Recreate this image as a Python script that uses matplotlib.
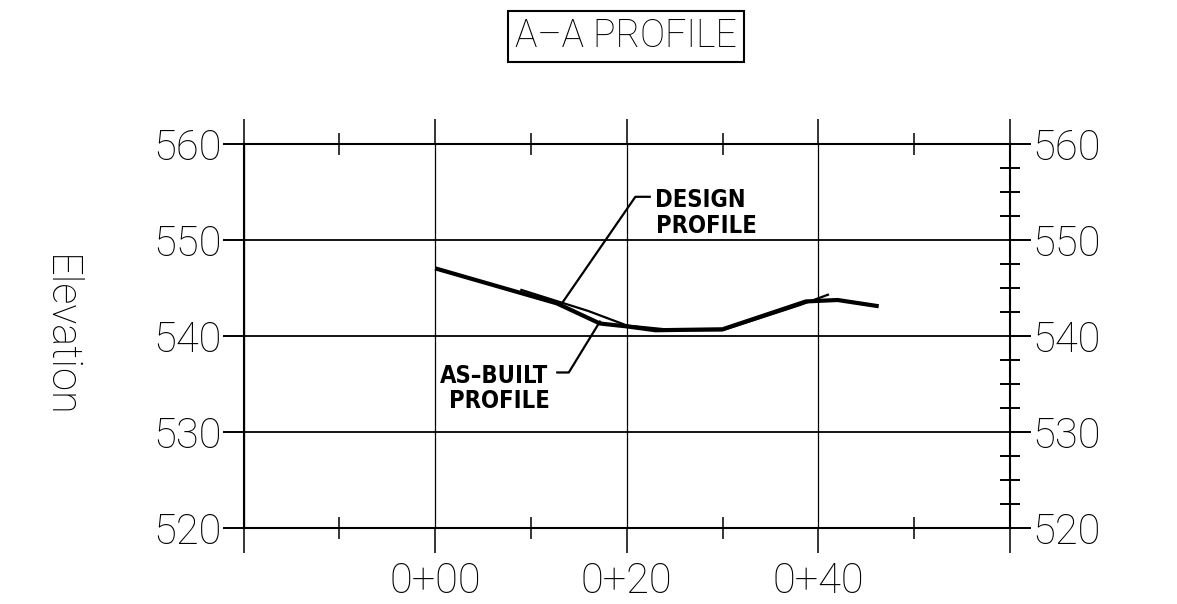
import matplotlib
matplotlib.use("Agg")
import matplotlib.pyplot as plt
from matplotlib.ticker import FixedLocator, FixedFormatter, MultipleLocator

# stations (ft) and elevations
asbuilt_sta = [0, 12.7, 17.2, 20, 23, 30, 38.7, 42, 46.3]
asbuilt_elev = [547.05, 543.4, 541.3, 541.0, 540.6, 540.7, 543.6, 543.75, 543.1]
design_sta = [9, 16, 20, 25, 30, 38, 41]
design_elev = [544.8, 542.6, 541.1, 540.6, 540.6, 543.2, 544.3]

station_ticks = [-20, 0, 20, 40, 60]
station_labels = ['', '0+00', '0+20', '0+40', '']
elev_ticks = [520, 530, 540, 550, 560]

# leader lines for the callouts
design_leader_x = [13.3, 20.9, 22.4]
design_leader_y = [543.5, 554.5, 554.5]
built_leader_x = [17.2, 13.95, 12.75]
built_leader_y = [541.5, 536.2, 536.2]

W, H = 1177, 604
fig = plt.figure(figsize=(W / 100, H / 100), dpi=100)
ax = fig.add_axes([243.5 / W, (H - 528) / H, (1010 - 243.5) / W, (528 - 144) / H])
ax.set_xlim(-20, 60)
ax.set_ylim(520, 560)

num_font = dict(family=['Roboto', 'DejaVu Sans'], weight='light', size=30)
cad_font = dict(family=['DejaVu Sans'], weight='bold', stretch='condensed', size=17)

for s in ax.spines.values():
    s.set_linewidth(1.5)

ax.xaxis.set_major_locator(FixedLocator(station_ticks))
ax.xaxis.set_major_formatter(FixedFormatter(station_labels))
ax.xaxis.set_minor_locator(FixedLocator([-10, 10, 30, 50]))
ax.yaxis.set_major_locator(FixedLocator(elev_ticks))
ax.yaxis.set_minor_locator(MultipleLocator(2.5))

ax.tick_params(axis='x', which='major', direction='out', length=18, width=1.1,
               top=True, bottom=True, labeltop=False, pad=6)
ax.tick_params(axis='x', which='minor', direction='inout', length=16, width=1.1,
               top=True, bottom=True)
ax.tick_params(axis='y', which='major', direction='out', length=15, width=1.4,
               left=True, right=True, labelleft=True, labelright=True, pad=1)
ax.tick_params(axis='y', which='minor', direction='inout', length=14, width=1.4,
               left=False, right=True)
for lab in ax.get_xticklabels() + ax.get_yticklabels():
    lab.set(**num_font)

ax.grid(True, axis='x', which='major', color='black', linewidth=0.9)
ax.grid(True, axis='y', which='major', color='black', linewidth=1.3)

ax.plot(asbuilt_sta, asbuilt_elev, color='black', linewidth=3, solid_capstyle='butt')
ax.plot(design_sta, design_elev, color='black', linewidth=1.6)

ax.plot(design_leader_x, design_leader_y, color='black', linewidth=1.6)
ax.plot(built_leader_x, built_leader_y, color='black', linewidth=1.6)
ax.text(23.0, 553.47, 'DESIGN', ha='left', va='baseline', **cad_font)
ax.text(23.05, 550.7, 'PROFILE', ha='left', va='baseline', **cad_font)
ax.text(11.76, 535.07, 'AS\u2013BUILT', ha='right', va='baseline', **cad_font)
ax.text(11.93, 532.45, 'PROFILE', ha='right', va='baseline', **cad_font)

ax.text(-0.24, 0.5, 'Elevation', rotation=-90, ha='center', va='center',
        transform=ax.transAxes, **num_font)

fig.text(626 / W, 1 - 36 / H, 'A\u2013A PROFILE', ha='center', va='center',
         family=['Roboto', 'DejaVu Sans'], weight='light', size=27,
         bbox=dict(boxstyle='square,pad=0.18', facecolor='white', edgecolor='black', linewidth=1.5))

fig.savefig('out.png', dpi=100)
